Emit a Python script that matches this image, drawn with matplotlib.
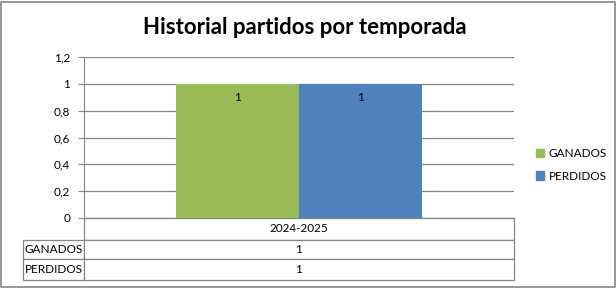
import matplotlib.pyplot as plt
from matplotlib.patches import Patch, Rectangle
from matplotlib.table import Table

plt.rcParams['font.family'] = ['Lato', 'DejaVu Sans']

temporadas = ["2024-2025"]
series = ["GANADOS", "PERDIDOS"]
ganados = [1]
perdidos = [1]
colores = ["#9BBB59", "#4F81BD"]
yticks = [0, 0.2, 0.4, 0.6, 0.8, 1, 1.2]
gris = "#868686"

W, H = 616, 288
fig = plt.figure(figsize=(W / 100, H / 100), dpi=100)
# plot area in pixels: x 84..514, y 57..218
ax = fig.add_axes([84 / W, (H - 218) / H, 430 / W, 161 / H])

valores = [ganados, perdidos]
ancho = 0.285
for i, (nombre, vals) in enumerate(zip(series, valores)):
    pos = [k + (i - 0.5) * ancho for k in range(len(temporadas))]
    barras = ax.bar(pos, vals, width=ancho, color=colores[i], label=nombre, zorder=3,
                    align="center")
    ax.bar_label(barras, labels=[str(v) for v in vals], padding=-14, fontsize=8.5)

ax.set_xlim(-0.5, len(temporadas) - 0.5)
ax.set_ylim(0, 1.2)
ax.set_yticks(yticks)
ax.set_yticklabels([("%g" % t).replace(".", ",") for t in yticks], fontsize=8.5)
ax.set_xticks([])
ax.grid(axis="y", color=gris, linewidth=0.9, zorder=0)
for s in ["top", "right"]:
    ax.spines[s].set_visible(False)
ax.spines["left"].set_color(gris)
ax.spines["bottom"].set_color(gris)
ax.tick_params(axis="y", color=gris, length=4, pad=6)

# data table under the axis
tabla = Table(ax, bbox=[(23 - 84) / 430, -62 / 161, 491 / 430, 62 / 161])
lab_w, col_w = 61 / 491, 430 / 491 / len(temporadas)
alturas = [22, 19, 21]
tabla.add_cell(0, 0, lab_w, alturas[0], text="", loc="left").visible_edges = ""
for j, t in enumerate(temporadas):
    tabla.add_cell(0, j + 1, col_w, alturas[0], text=t, loc="center")
for i, (nombre, vals) in enumerate(zip(series, valores)):
    tabla.add_cell(i + 1, 0, lab_w, alturas[i + 1], text=nombre, loc="left")
    for j, v in enumerate(vals):
        tabla.add_cell(i + 1, j + 1, col_w, alturas[i + 1], text=str(v), loc="center")
tabla.auto_set_font_size(False)
tabla.set_fontsize(8.5)
for celda in tabla.get_celld().values():
    celda.set_edgecolor(gris)
    celda.set_linewidth(0.9)
    celda.PAD = 0.03
ax.add_table(tabla)

fig.text(0.495, 0.905, "Historial partidos por temporada", ha="center", va="center",
         fontsize=16, fontweight="bold")

handles = [Patch(color=c, label=n) for c, n in zip(colores, series)]
fig.legend(handles=handles, loc="center left", bbox_to_anchor=(525 / W, (H - 165) / H),
           frameon=False, fontsize=8.5, handlelength=0.7, handleheight=0.7,
           handletextpad=0.4, labelspacing=0.95)

fig.patches.append(Rectangle((0.5 / W, 1.5 / H), (W - 2) / W, (H - 3) / H,
                             transform=fig.transFigure, fill=False,
                             edgecolor=gris, linewidth=1.2))

fig.savefig("out.png", dpi=100)
